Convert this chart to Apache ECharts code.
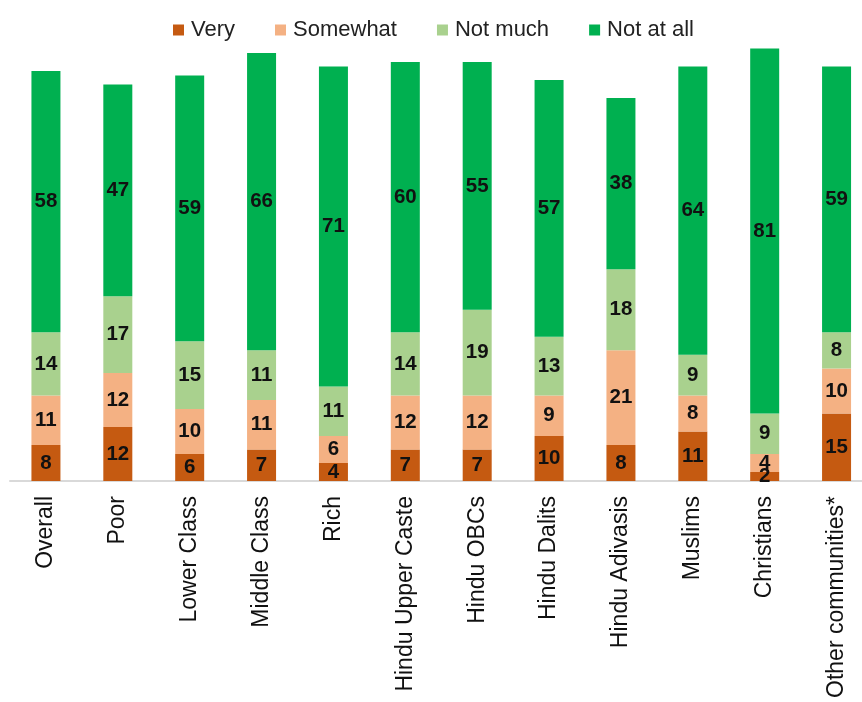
<!DOCTYPE html>
<html>
<head>
<meta charset="utf-8">
<script src="https://cdn.jsdelivr.net/npm/echarts@6/dist/echarts.min.js"></script>
<style>
  html, body { margin: 0; padding: 0; background: #fff; }
  #chart { width: 862px; height: 702px; }
</style>
</head>
<body>
<div id="chart"></div>
<script>
// Groups shown along the x axis
const categories = [
  'Overall', 'Poor', 'Lower Class', 'Middle Class', 'Rich',
  'Hindu Upper Caste', 'Hindu OBCs', 'Hindu Dalits', 'Hindu Adivasis',
  'Muslims', 'Christians', 'Other communities*'
];

// Share of respondents (%) per answer
const very     = [8, 12, 6, 7, 4, 7, 7, 10, 8, 11, 2, 15];
const somewhat = [11, 12, 10, 11, 6, 12, 12, 9, 21, 8, 4, 10];
const notMuch  = [14, 17, 15, 11, 11, 14, 19, 13, 18, 9, 9, 8];
const notAtAll = [58, 47, 59, 66, 71, 60, 55, 57, 38, 64, 81, 59];

const seriesNames = ['Very', 'Somewhat', 'Not much', 'Not at all'];
const seriesData = [very, somewhat, notMuch, notAtAll];
const colors = ['#C55A11', '#F4B183', '#A9D18E', '#00B050'];

const FONT = '"Liberation Sans", Arial, sans-serif';

const chart = echarts.init(document.getElementById('chart'), null, { renderer: 'canvas' });

chart.setOption({
  animation: false,
  color: colors,
  textStyle: { fontFamily: FONT },
  legend: {
    top: 14,
    left: 168,
    itemWidth: 11,
    itemHeight: 11,
    itemGap: 40,
    icon: 'rect',
    textStyle: { fontSize: 22, color: '#222', fontFamily: FONT, padding: [0, 0, 0, 2] },
    data: seriesNames
  },
  grid: {
    left: 10,
    width: 862.5,
    top: 30.5,
    bottom: 221,
    outerBoundsMode: 'none'
  },
  xAxis: {
    type: 'category',
    data: categories,
    axisLine: { show: true, lineStyle: { color: '#d9d9d9', width: 2 } },
    axisTick: { show: false },
    axisLabel: {
      rotate: 90,
      interval: 0,
      fontSize: 23,
      color: '#111',
      fontFamily: FONT,
      margin: 15
    }
  },
  yAxis: {
    type: 'value',
    min: 0,
    max: 100,
    show: false,
    splitLine: { show: false }
  },
  series: seriesNames.map((name, i) => ({
    name: name,
    type: 'bar',
    stack: 'total',
    barWidth: 29,
    data: seriesData[i],
    label: {
      show: true,
      position: 'inside',
      fontSize: 20.5,
      fontWeight: 'bold',
      color: '#111',
      fontFamily: FONT
    }
  }))
});
</script>
</body>
</html>
